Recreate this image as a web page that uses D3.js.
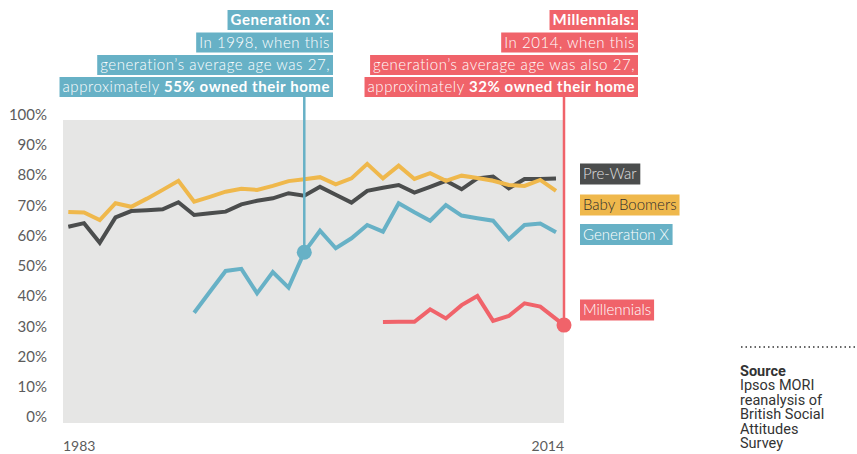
<!DOCTYPE html>
<html>
<head>
<meta charset="utf-8">
<script src="https://cdn.jsdelivr.net/npm/d3@7"></script>
<style>
  body { margin: 0; background: #fff; }
  svg { display: block; font-family: Lato, "Open Sans", sans-serif; }
</style>
</head>
<body>
<svg id="chart" width="857" height="454"></svg>
<script>
// home ownership by generation, BSA survey years
const years = [1983, 1984, 1985, 1986, 1987, 1988, 1989, 1990, 1991, 1992, 1993, 1994, 1995, 1996, 1997, 1998,
               1999, 2000, 2001, 2002, 2003, 2004, 2005, 2006, 2007, 2008, 2009, 2010, 2011, 2012, 2013, 2014];

const preWar = [64.7, 65.9, 59.4, 67.8, 69.9, 70.2, 70.5, 72.8, 68.6, 69.2, 69.7, 72.1, 73.3, 74.1, 75.8, 75.0,
                77.9, 75.3, 72.7, 76.6, 77.6, 78.5, 76.0, 77.9, 79.9, 77.1, 80.7, 81.3, 77.4, 80.5, 80.5, 80.7];
const boomers = [69.6, 69.4, 66.9, 72.5, 71.3, 74.0, 76.9, 79.9, 73.0, 74.6, 76.3, 77.3, 76.9, 78.2, 79.8, 80.4,
                 81.1, 78.7, 80.7, 85.5, 80.7, 84.9, 80.5, 82.4, 79.9, 81.6, 80.8, 79.9, 78.5, 78.2, 80.2, 76.6];
const genXStart = 1991;
const genX = [36.3, 43.2, 50.1, 50.8, 42.7, 49.7, 44.6, 56.3, 63.4, 57.6, 60.9, 65.3,
              63.1, 72.5, 69.5, 66.7, 71.9, 68.4, 67.5, 66.7, 60.6, 65.3, 65.8, 62.9];
const millStart = 2003;
const millennials = [33.2, 33.3, 33.3, 37.4, 34.4, 38.8, 41.8, 33.6, 35.2, 39.4, 38.3];

const yTicks = [0, 10, 20, 30, 40, 50, 60, 70, 80, 90, 100];
const xTickLabels = [1983, 2014];

const colors = {
    preWar: '#4b4d4d',
    boomers: '#efb84c',
    genX: '#67b1c6',
    mill: '#f0636a'
};

const svg = d3.select('#chart');

const plotLeft = 63, plotRight = 564, plotTop = 120, plotBottom = 423;

const x = d3.scaleLinear().domain([years[0], years[years.length - 1]]).range([68.3, 556]);
const y = d3.scaleLinear().domain([0, 100]).range([422.5, 120]);

// background panel
svg.append('rect')
    .attr('x', plotLeft)
    .attr('y', plotTop)
    .attr('width', plotRight - plotLeft)
    .attr('height', plotBottom - plotTop)
    .attr('fill', '#e6e6e5');

// y axis labels
const yAxis = d3.axisLeft(y).tickValues(yTicks).tickFormat(d => d + '%').tickSize(0).tickPadding(0);
const yg = svg.append('g').attr('transform', 'translate(47,-5.5)').call(yAxis);
yg.select('.domain').remove();
yg.selectAll('text')
    .attr('fill', '#5c5c5c')
    .style('font-family', 'Lato, sans-serif')
    .style('font-size', '15px')
    .style('font-weight', 400);

// x labels
svg.selectAll('text.xl')
    .data(xTickLabels)
    .enter()
    .append('text')
    .attr('class', 'xl')
    .attr('x', (d, i) => i === 0 ? plotLeft : plotRight)
    .attr('y', 451)
    .attr('text-anchor', (d, i) => i === 0 ? 'start' : 'end')
    .attr('fill', '#5c5c5c')
    .style('font-size', '14px')
    .style('font-weight', 400)
    .text(d => d);

const toPts = (vals, start) => vals.map((v, i) => [x(start + i), y(v)]);
const line = d3.line();

// annotation anchors
const annotations = [
    { key: 'genX', year: 1998, value: 56.3, color: colors.genX, right: 333,
      lines: [
          [['Generation X:', true]],
          [['In 1998, when this', false]],
          [['generation\u2019s average age was 27,', false]],
          [['approximately ', false], ['55% owned their home', true]]
      ] },
    { key: 'mill', year: 2014, value: 32.2, color: colors.mill, right: 638, edge: true,
      lines: [
          [['Millennials:', true]],
          [['In 2014, when this', false]],
          [['generation\u2019s average age was also 27,', false]],
          [['approximately ', false], ['32% owned their home', true]]
      ] }
];
const annoX = a => a.edge ? plotRight : x(a.year);

const series = [
    { pts: toPts(preWar, years[0]), color: colors.preWar },
    { pts: toPts(boomers, years[0]), color: colors.boomers },
    { pts: toPts(genX, genXStart), color: colors.genX },
    { pts: toPts(millennials, millStart).concat([[annoX(annotations[1]), y(annotations[1].value)]]), color: colors.mill }
];

svg.selectAll('path.series')
    .data(series)
    .enter()
    .append('path')
    .attr('class', 'series')
    .attr('d', d => line(d.pts))
    .attr('fill', 'none')
    .attr('stroke', d => d.color)
    .attr('stroke-width', 4);

// boxed text helper
function boxedText(g, xPos, yMid, parts, opt) {
    const t = g.append('text')
        .attr('x', xPos)
        .attr('y', yMid)
        .attr('dy', '0.35em')
        .attr('text-anchor', opt.anchor)
        .attr('fill', opt.fill)
        .style('font-family', opt.family)
        .style('letter-spacing', (opt.spacing || 0) + 'px')
        .style('font-size', opt.size + 'px');
    parts.forEach(p => {
        t.append('tspan')
            .style('font-weight', p[1] ? 700 : 300)
            .text(p[0]);
    });
    const bb = t.node().getBBox();
    g.insert('rect', () => t.node())
        .attr('x', bb.x - opt.padX)
        .attr('y', yMid - opt.h / 2)
        .attr('width', bb.width + opt.padX * 2)
        .attr('height', opt.h)
        .attr('fill', opt.bg);
}

const rowMid = [20, 42.5, 65, 87];

annotations.forEach(a => {
    const g = svg.append('g');
    const ax = annoX(a), ay = y(a.value);
    g.append('line')
        .attr('x1', ax).attr('x2', ax)
        .attr('y1', 96).attr('y2', ay)
        .attr('stroke', a.color)
        .attr('stroke-width', 2.5);
    g.append('circle')
        .attr('cx', ax).attr('cy', ay)
        .attr('r', 7.5)
        .attr('fill', a.color);
    a.lines.forEach((parts, i) => {
        boxedText(g, a.right - 3, rowMid[i], parts, {
            anchor: 'end', fill: '#fff', size: 15, padX: 3, h: 20, bg: a.color,
            family: 'Lato, sans-serif', spacing: 0.55
        });
    });
});

// series labels
const legend = [
    { name: 'Pre-War', color: colors.preWar, text: '#e0e0e0', yMid: 174 },
    { name: 'Baby Boomers', color: colors.boomers, text: '#2e2e2e', yMid: 205 },
    { name: 'Generation X', color: colors.genX, text: '#fff', yMid: 234.5 },
    { name: 'Millennials', color: colors.mill, text: '#fff', yMid: 310 }
];
const lg = svg.append('g');
legend.forEach(l => {
    boxedText(lg, 583, l.yMid, [[l.name, false]], {
        anchor: 'start', fill: l.text, size: 15, padX: 3, h: 21, bg: l.color,
        family: 'Lato, sans-serif'
    });
});

// source note
svg.append('line')
    .attr('x1', 741).attr('x2', 857)
    .attr('y1', 347).attr('y2', 347)
    .attr('stroke', '#333')
    .attr('stroke-width', 1.5)
    .attr('stroke-dasharray', '1.5,3');

const source = ['Ipsos MORI', 'reanalysis of', 'British Social', 'Attitudes', 'Survey'];
const st = svg.append('text')
    .attr('x', 740)
    .attr('y', 376)
    .attr('fill', '#333')
    .style('font-family', 'Roboto, sans-serif')
    .style('font-size', '14.5px');
st.append('tspan').attr('x', 740).style('font-weight', 700).text('Source');
source.forEach(s => {
    st.append('tspan').attr('x', 740).attr('dy', 14.4).text(s);
});
</script>
</body>
</html>
